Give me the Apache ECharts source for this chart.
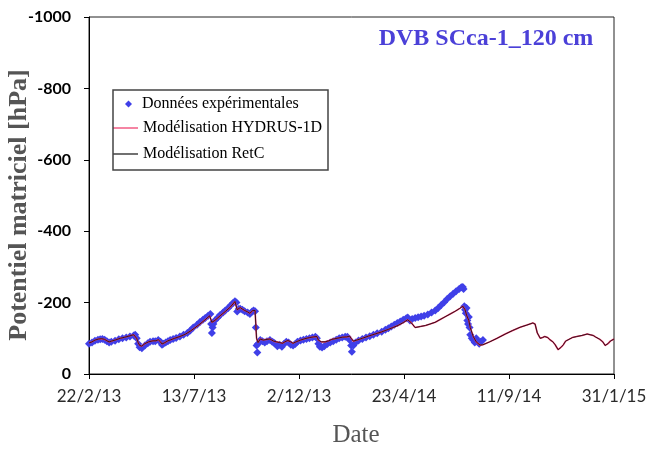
<!DOCTYPE html>
<html><head><meta charset="utf-8">
<script src="https://cdn.jsdelivr.net/npm/echarts@6/dist/echarts.min.js"></script>
<style>html,body{margin:0;padding:0;background:#fff}#c{width:650px;height:452px}</style>
</head><body><div id="c"></div>
<script>
// x values: days since 22/2/13
const xTickLabels = ['22/2/13','13/7/13','2/12/13','23/4/14','11/9/14','31/1/15'];
const xTickStep = 141;
const xMax = 705;

const expData = [
[0,-85],[4,-88],[8,-93],[12,-96],[15,-97],[18,-98],[21,-96],[24,-92],[27,-88],[30,-90],
[35,-93],[40,-97],[45,-100],[50,-102],[55,-105],[60,-108],[62,-110],[64,-100],[66,-85],[68,-75],
[71,-72],[75,-80],[79,-86],[82,-90],[86,-92],[89,-92],[93,-95],[96,-90],[98,-82],[100,-85],
[103,-88],[106,-92],[109,-95],[113,-98],[117,-101],[122,-105],[127,-110],[132,-115],[136,-122],[140,-130],
[145,-138],[149,-146],[153,-152],[156,-157],[160,-163],[163,-168],[164,-140],[165,-115],[166,-130],[167,-140],
[169,-150],[173,-158],[176,-165],[180,-172],[183,-178],[187,-185],[190,-192],[193,-198],[196,-204],[198,-200],
[199,-175],[201,-182],[203,-183],[206,-180],[209,-176],[213,-172],[216,-168],[219,-175],[221,-178],[223,-176],
[224,-130],[225,-80],[226,-60],[227,-85],[230,-95],[233,-92],[236,-88],[239,-92],[243,-95],[246,-90],
[248,-88],[250,-85],[253,-78],[256,-82],[259,-76],[262,-85],[265,-90],[268,-88],[271,-82],[274,-80],
[277,-84],[280,-90],[284,-94],[288,-96],[292,-98],[296,-100],[300,-102],[304,-104],[306,-100],[308,-85],
[310,-76],[313,-74],[316,-78],[320,-84],[324,-88],[328,-92],[332,-96],[336,-100],[340,-102],[344,-104],
[347,-104],[350,-95],[352,-80],[353,-62],[355,-80],[358,-88],[362,-94],[367,-98],[372,-102],[377,-106],
[382,-110],[387,-114],[393,-118],[398,-124],[402,-128],[406,-133],[410,-138],[414,-143],[418,-147],[422,-152],
[426,-156],[428,-158],[431,-150],[434,-154],[438,-157],[442,-159],[446,-161],[450,-163],[455,-167],[460,-172],
[465,-178],[469,-185],[473,-193],[477,-201],[481,-210],[485,-218],[489,-225],[493,-232],[497,-238],[500,-243],
[502,-244],[503,-238],[504,-190],[505,-180],[506,-170],[507,-185],[508,-150],[509,-140],[510,-160],[511,-130],
[512,-110],[514,-100],[516,-95],[518,-88],[520,-100],[522,-92],[524,-85],[526,-90],[529,-95]
];

const hydrusData = [
[0,-87],[4,-90],[8,-95],[13,-98],[17,-99],[21,-97],[24,-93],[27,-90],[30,-92],[35,-95],
[42,-100],[48,-103],[55,-107],[60,-110],[62,-112],[64,-100],[66,-88],[68,-80],[71,-78],[75,-85],
[80,-90],[86,-93],[90,-93],[93,-96],[96,-90],[98,-84],[101,-87],[106,-93],[110,-96],[115,-100],
[122,-105],[129,-111],[136,-120],[142,-129],[149,-140],[156,-152],[162,-163],[164,-168],[165,-145],[167,-142],
[169,-150],[176,-163],[183,-175],[190,-188],[196,-203],[198,-204],[199,-180],[203,-186],[209,-178],[213,-174],
[216,-170],[220,-178],[223,-178],[224,-175],[225,-100],[227,-88],[230,-98],[234,-95],[239,-97],[243,-98],
[248,-92],[252,-90],[256,-88],[260,-86],[263,-90],[267,-94],[271,-90],[274,-86],[278,-90],[284,-95],
[290,-99],[296,-102],[302,-104],[306,-105],[308,-95],[312,-90],[317,-90],[322,-93],[326,-97],[333,-100],
[340,-103],[346,-104],[350,-106],[352,-100],[355,-92],[361,-96],[367,-100],[375,-106],[384,-112],[393,-118],
[402,-125],[408,-130],[415,-136],[422,-144],[428,-152],[433,-143],[438,-130],[445,-133],[452,-136],[458,-140],
[465,-145],[471,-152],[478,-160],[485,-168],[492,-176],[498,-184],[502,-190],[505,-180],[507,-165],[510,-150],
[512,-130],[516,-105],[520,-90],[525,-81],[529,-82],[538,-90],[548,-100],[559,-112],[569,-122],[579,-131],
[588,-137],[596,-143],[599,-140],[602,-115],[606,-100],[609,-102],[612,-105],[616,-102],[619,-96],[623,-90],
[626,-82],[630,-68],[634,-75],[637,-82],[640,-92],[642,-97],[649,-102],[655,-105],[662,-108],[669,-112],
[673,-110],[677,-108],[680,-104],[686,-97],[690,-90],[693,-80],[697,-85],[700,-92],[705,-98]
];

const retcData = hydrusData.map(p => [p[0], p[1]]);

const chart = echarts.init(document.getElementById('c'), null, {renderer:'canvas'});
const sans = 'Lato';
const serif = 'Liberation Serif';
const legendText = {fontFamily: serif, fontSize: 16, color: '#000', lineHeight: 16};
chart.setOption({
  animation: false,
  backgroundColor: '#fff',
  grid: {left: 89, right: 36, top: 17, bottom: 78, show: true, borderColor: '#222', borderWidth: 1, backgroundColor: 'transparent'},
  xAxis: {
    type: 'value', min: 0, max: xMax, interval: xTickStep,
    axisLine: {show: true, lineStyle: {color: '#000', width: 1}},
    axisTick: {show: true, length: 5, lineStyle: {color: '#000'}},
    splitLine: {show: false},
    axisLabel: {
      margin: 14, fontFamily: sans, fontSize: 17, color: '#2a2a2a',
      formatter: v => xTickLabels[Math.round(v / xTickStep)] || ''
    }
  },
  yAxis: {
    type: 'value', min: -1000, max: 0, interval: 200, inverse: true,
    axisLine: {show: true, lineStyle: {color: '#000', width: 1}},
    axisTick: {show: true, length: 5, lineStyle: {color: '#000'}},
    splitLine: {show: false},
    axisLabel: {margin: 18, fontFamily: sans, fontSize: 16, fontWeight: 'bold', color: '#000',
      formatter: v => String(v)}
  },
  legend: [
    {
      left: 125, top: 96, orient: 'vertical', selectedMode: false,
      itemWidth: 7, itemHeight: 7, padding: 0,
      data: [{name: 'Données expérimentales', icon: 'diamond'}],
      textStyle: Object.assign({padding: [0, 0, 0, 5]}, legendText)
    },
    {
      left: 113, top: 120, orient: 'vertical', selectedMode: false,
      itemWidth: 25, itemHeight: 1.2, itemGap: 10, padding: 0, icon: 'rect',
      data: ['Modélisation HYDRUS-1D', 'Modélisation RetC'],
      textStyle: legendText
    }
  ],
  graphic: [
    {type: 'rect', shape: {x: 113, y: 90, width: 215, height: 80}, style: {fill: 'none', stroke: '#444', lineWidth: 1.5}, z: 100},
    {type: 'text', x: 486, y: 39, style: {text: 'DVB SCca-1_120 cm', font: 'bold 24px "Liberation Serif"', fill: '#4b40d8', textAlign: 'center', textVerticalAlign: 'middle'}},
    {type: 'text', x: 19, y: 205, rotation: Math.PI / 2, style: {text: 'Potentiel matriciel [hPa]', font: 'bold 26px "Liberation Serif"', fill: '#555', textAlign: 'center', textVerticalAlign: 'middle'}},
    {type: 'text', x: 356, y: 435, style: {text: 'Date', font: '25px "Liberation Serif"', fill: '#555', textAlign: 'center', textVerticalAlign: 'middle'}}
  ],
  series: [
    {
      name: 'Données expérimentales', type: 'scatter', data: expData,
      symbol: 'diamond', symbolSize: 8,
      itemStyle: {color: '#3f3fe8', opacity: 1}, z: 2
    },
    {
      name: 'Modélisation HYDRUS-1D', type: 'line', data: hydrusData,
      symbol: 'none', itemStyle: {color: '#ee3366'}, lineStyle: {color: '#ee3366', width: 1.6}, z: 3
    },
    {
      name: 'Modélisation RetC', type: 'line', data: retcData,
      symbol: 'none', itemStyle: {color: '#111'}, lineStyle: {color: '#111', width: 1, opacity: 0.85}, z: 4
    }
  ]
});
</script>
</body></html>
